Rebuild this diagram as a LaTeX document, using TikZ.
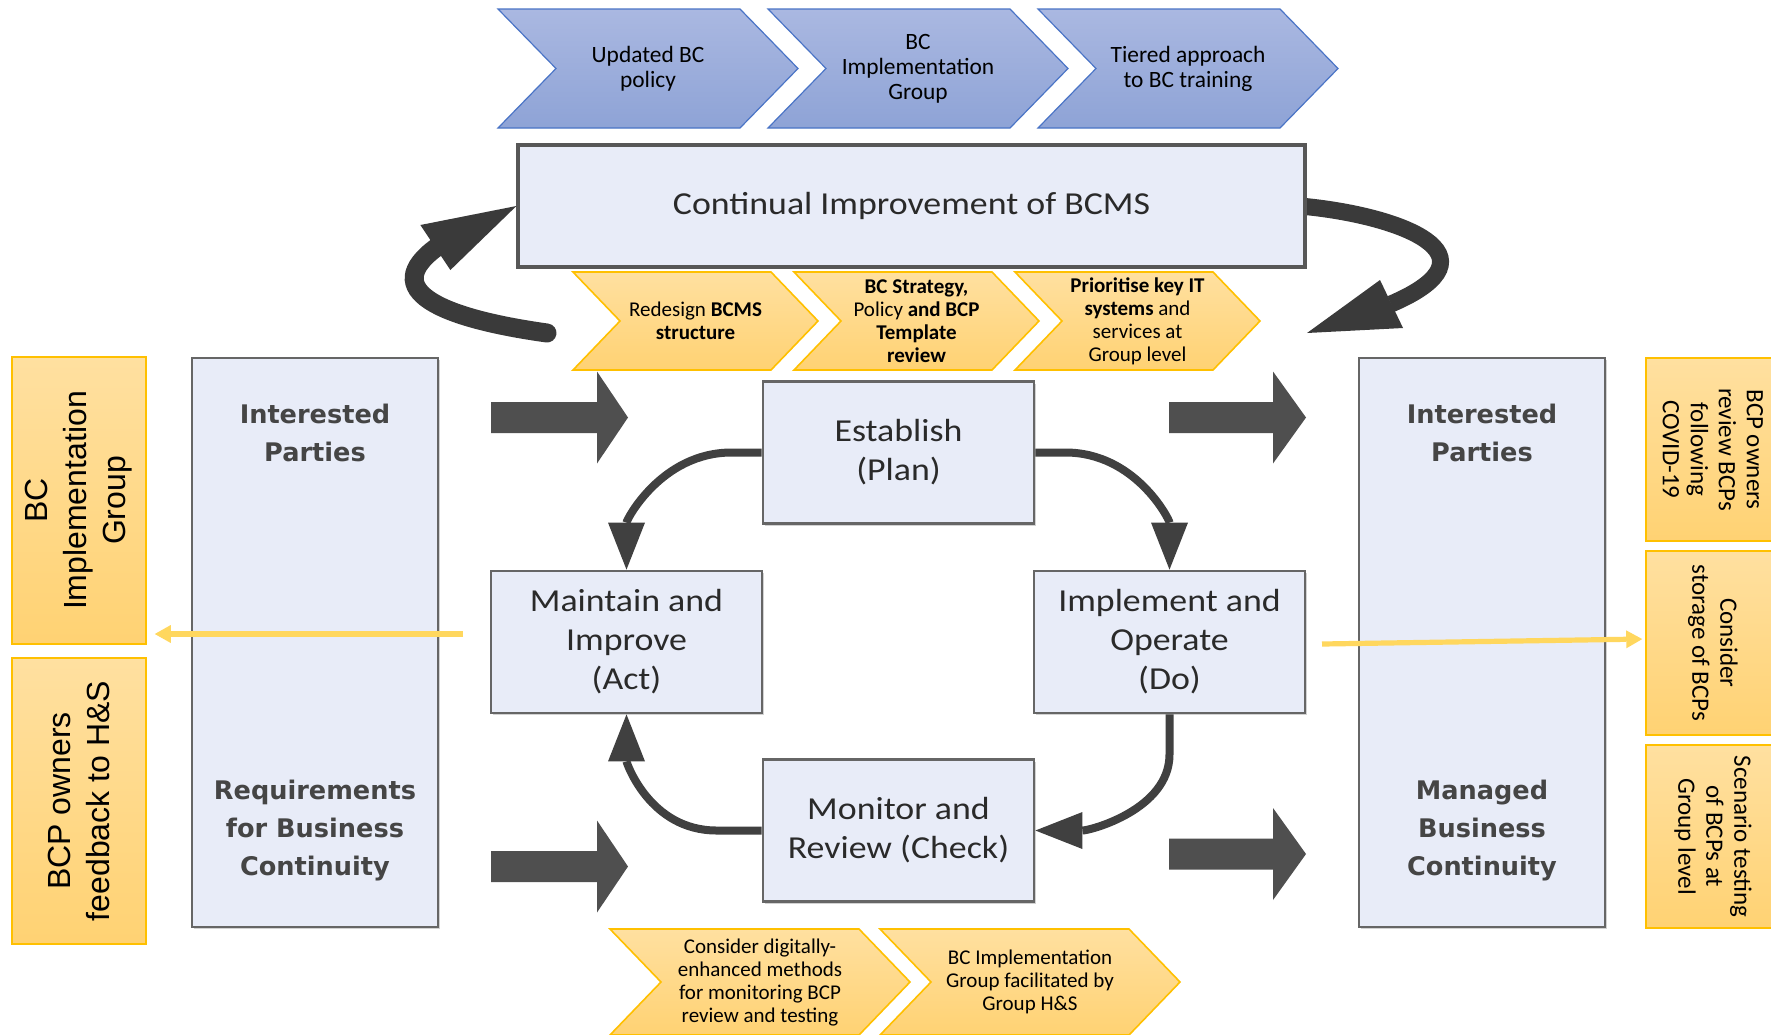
\documentclass[tikz,border=0pt]{standalone}
\usepackage{fontspec}
\setmainfont{Carlito}
\newfontfamily\widefont{Carlito}[FakeStretch=1.12]
\newfontfamily\arialfont{Liberation Sans}
\newfontfamily\verdfont{DejaVu Sans}
\usetikzlibrary{arrows.meta,calc,shadows}

\definecolor{boxfill}{HTML}{E8ECF8}
\definecolor{boxline}{HTML}{666666}
\definecolor{txtgray}{HTML}{2A2A2A}
\definecolor{sidegray}{HTML}{454545}
\definecolor{cycgray}{HTML}{404040}
\definecolor{blockgray}{HTML}{4F4F4F}
\definecolor{bigarc}{HTML}{3A3A3A}
\definecolor{ytop}{HTML}{FFE0A0}
\definecolor{ybot}{HTML}{FFD273}
\definecolor{yline}{HTML}{FFC000}
\definecolor{btop}{HTML}{AAB8E1}
\definecolor{bbot}{HTML}{8EA3D6}
\definecolor{bline}{HTML}{4A74C6}
\definecolor{feed}{HTML}{FFD75E}

\tikzset{
  bluechev/.style={draw=bline, line width=0.6pt, top color=btop, bottom color=bbot},
  bluechev text/.style={align=center, inner sep=0pt, font=\fontsize{11.7}{12.6}\selectfont},
  yelchev/.style={draw=yline, line width=0.8pt, top color=ytop, bottom color=ybot},
  yelchev text/.style={align=center, inner sep=0pt, font=\fontsize{10.5}{11.5}\selectfont},
  graybox/.style={draw=boxline, line width=1.4pt, fill=boxfill, inner sep=0pt,
    drop shadow={shadow xshift=0.8pt, shadow yshift=-1pt, opacity=0.35}},
  contbox/.style={graybox, draw=boxline!85!black, line width=1.6pt, minimum width=393.5pt, minimum height=61pt,
    text=txtgray, font=\widefont\fontsize{16}{19.5}\selectfont},
  pdcabox/.style={graybox, minimum width=135.5pt, minimum height=71pt, align=center,
    text=txtgray, font=\widefont\fontsize{16}{19.5}\selectfont},
  sidebox/.style={graybox, minimum width=123pt, minimum height=284.5pt},
  sidetext/.style={align=center, inner sep=0pt, text=sidegray,
    font=\verdfont\bfseries\fontsize{12.8}{19}\selectfont},
  orangebox/.style={draw=yline, line width=0.8pt, top color=ytop, bottom color=ybot,
    minimum width=67pt, inner sep=0pt},
  lefttext/.style={rotate=90, align=center, inner sep=0pt, font=\arialfont\fontsize{16}{19.5}\selectfont},
  righttext/.style={rotate=-90, align=center, inner sep=0pt, font=\fontsize{12.5}{14}\selectfont},
  cyc/.style={draw=cycgray, line width=4pt, -{Triangle[length=23.5pt,width=18.5pt,line width=0pt]}},
  bigstroke/.style={draw=bigarc, line cap=round},
  bighead/.style={fill=bigarc},
  feedarrow/.style={draw=feed, line width=2.6pt, -{Triangle[length=8pt,width=9pt,line width=0pt]}}
}

% chevron outline plus its centred label: name, left, top, width, height, point depth, style, text
\newcommand\chevnode[8]{%
  \path[#7] (#2,#3) -- ({#2+#4-#6},#3) -- ({#2+#4},{#3+#5/2}) -- ({#2+#4-#6},{#3+#5})
    -- (#2,{#3+#5}) -- ({#2+#6},{#3+#5/2}) -- cycle;
  \node[#7 text] (#1) at ({#2+#4/2},{#3+#5/2}) {#8};
}
% wide block arrow: shaft start, head base, tip, centre line
\newcommand\blockarr[4]{%
  \fill[blockgray] (#1,{#4-15.5}) -- (#2,{#4-15.5}) -- (#2,{#4-46}) -- (#3,#4)
    -- (#2,{#4+46}) -- (#2,{#4+15.5}) -- (#1,{#4+15.5}) -- cycle;
}

\begin{document}
\begin{tikzpicture}[x=0.5pt,y=-0.5pt]
\useasboundingbox (0,0) rectangle (1771,1034);
\clip (0,0) rectangle (1771,1034);
\fill[white] (0,0) rectangle (1771,1034);

% actions feeding the policy level
\chevnode{pol}{498}{9}{300}{119}{58}{bluechev}{Updated BC\\policy}
\chevnode{grp}{768}{9}{300}{119}{58}{bluechev}{BC\\Implementation\\Group}
\chevnode{trn}{1038}{9}{300}{119}{58}{bluechev}{Tiered approach\\to BC training}

% continual improvement loop around the top box
\coordinate (ltail) at (547,333);
\coordinate (rtip) at (1307,333);
\draw[bigstroke, line width=9.5pt] (ltail) .. controls (440,318) and (378,290) .. (437,247);
\draw[bigstroke, line width=8.5pt, line cap=butt] (1300,206) .. controls (1400,215) and (1505,255) .. ($(rtip)+(84,-29)$);

\node[contbox] (cont) at (911.5,206) {Continual Improvement of BCMS};
\fill[bighead] ($(cont.west)+(-96,19)$) -- (cont.west) -- ($(cont.west)+(-66,64)$) -- cycle;
\fill[bighead] (rtip) -- ($(rtip)+(73,-53)$) -- ($(rtip)+(96,-5)$) -- cycle;

\chevnode{rds}{573}{272}{245}{98}{47}{yelchev}{Redesign \textbf{BCMS}\\\textbf{structure}}
\chevnode{str}{794}{272}{245}{98}{47}{yelchev}{\textbf{BC Strategy,}\\Policy \textbf{and BCP}\\\textbf{Template}\\\textbf{review}}
\chevnode{pri}{1015}{272}{245}{98}{47}{yelchev}{\textbf{Prioritise key IT}\\\textbf{systems} and\\services at\\Group level}

% inputs and outputs
\node[sidebox] (lbox) at (315,642.5) {};
\node[sidetext] (lint) at (315,433) {Interested\\Parties};
\node[sidetext] (lreq) at (315,831) {Requirements\\for Business\\Continuity};
\node[sidebox] (rbox) at (1482,642.5) {};
\node[sidetext] (rint) at (1482,433) {Interested\\Parties};
\node[sidetext] (rman) at (1482,831) {Managed\\Business\\Continuity};

\blockarr{491}{597}{628}{417.5}
\blockarr{491}{597}{628}{866.5}
\blockarr{1169}{1273}{1306}{417.5}
\blockarr{1169}{1273}{1306}{854}

% plan-do-check-act cycle
\node[pdcabox] (est) at (898.5,452.5) {Establish\\(Plan)};
\node[pdcabox] (act) at (626.5,642) {Maintain and\\Improve\\(Act)};
\node[pdcabox] (imp) at (1169.5,642) {Implement and\\Operate\\(Do)};
\node[pdcabox] (chk) at (898.5,830.5) {Monitor and\\Review (Check)};

\draw[cyc] (est.west) -- ++(-30,0) .. controls +(-70,0) and +(0,-50) .. (act.north);
\draw[cyc] (est.east) -- ++(30,0) .. controls +(70,0) and +(0,-50) .. (imp.north);
\draw[cyc] (imp.south) -- ++(0,40) .. controls +(0,55) and +(55,0) .. (chk.east);
\draw[cyc] (chk.west) -- ++(-45,0) .. controls +(-67,0) and +(0,48) .. (act.south);

\chevnode{dig}{610}{929}{300}{106}{51}{yelchev}{Consider digitally-\\enhanced methods\\for monitoring BCP\\review and testing}
\chevnode{fac}{880}{929}{300}{106}{51}{yelchev}{BC Implementation\\Group facilitated by\\Group H\&S}

% actions on the left
\node[orangebox, minimum height=143.5pt] (bcgbox) at (79,500.5) {};
\node[lefttext] (bcg) at (bcgbox) {BC\\Implementation\\Group};
\node[orangebox, minimum height=143pt] (fbkbox) at (79,801) {};
\node[lefttext] (fbk) at (fbkbox) {BCP owners\\feedback to H\&S};

% actions on the right
\node[orangebox, minimum height=91.5pt] (covbox) at (1713,449.5) {};
\node[righttext] (cov) at (covbox) {BCP owners\\review BCPs\\following\\COVID-19};
\node[orangebox, minimum height=92pt] (stobox) at (1713,643) {};
\node[righttext] (sto) at (stobox) {Consider\\storage of BCPs};
\node[orangebox, minimum height=91.5pt] (scnbox) at (1713,836.5) {};
\node[righttext] (scn) at (scnbox) {Scenario testing\\of BCPs at\\Group level};

% links out to the side actions
\coordinate (lfs) at (463,634);
\coordinate (rfs) at (1322,644);
\draw[feedarrow, shorten >=4pt] (lfs) -- (lfs -| bcgbox.east);
\draw[feedarrow, shorten >=1.5pt] (rfs) -- ($(stobox.west)+(0,-4)$);
\end{tikzpicture}
\end{document}
